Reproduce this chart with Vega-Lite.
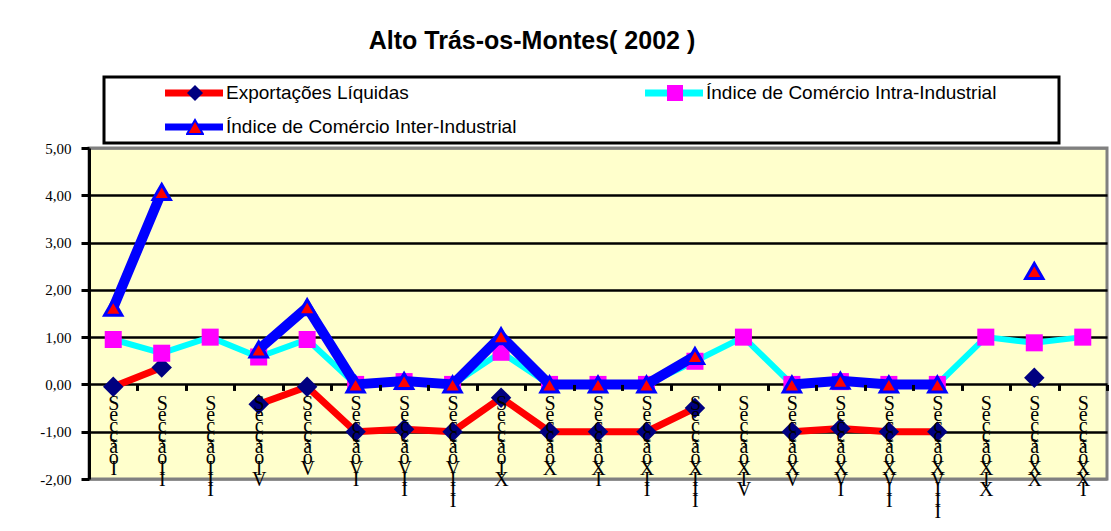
{
  "$schema": "https://vega.github.io/schema/vega-lite/v6.json",
  "width": 1018,
  "height": 331,
  "autosize": {"type": "none"},
  "padding": {"left": 89, "top": 148, "right": 4, "bottom": 52},
  "background": "#FFFFFF",
  "title": {"text": "Alto Trás-os-Montes( 2002 )", "font": "Liberation Sans", "fontSize": 25, "fontWeight": "bold", "color": "#000000", "anchor": "middle", "frame": "group", "dx": -66, "offset": 22},
  "config": {
    "font": "Liberation Sans",
    "view": {"fill": "#FFFFCC", "stroke": "#808080", "strokeWidth": 3}
  },
  "data": {"values": [
    {"secao": "Secção I", "serie": "Exportações Líquidas", "valor": -0.05},
    {"secao": "Secção II", "serie": "Exportações Líquidas", "valor": 0.36},
    {"secao": "Secção III", "serie": "Exportações Líquidas", "valor": null},
    {"secao": "Secção IV", "serie": "Exportações Líquidas", "valor": -0.42},
    {"secao": "Secção V", "serie": "Exportações Líquidas", "valor": -0.05},
    {"secao": "Secção VI", "serie": "Exportações Líquidas", "valor": -1.0},
    {"secao": "Secção VII", "serie": "Exportações Líquidas", "valor": -0.95},
    {"secao": "Secção VIII", "serie": "Exportações Líquidas", "valor": -1.0},
    {"secao": "Secção IX", "serie": "Exportações Líquidas", "valor": -0.28},
    {"secao": "Secção X", "serie": "Exportações Líquidas", "valor": -1.0},
    {"secao": "Secção XI", "serie": "Exportações Líquidas", "valor": -1.0},
    {"secao": "Secção XII", "serie": "Exportações Líquidas", "valor": -1.0},
    {"secao": "Secção XIII", "serie": "Exportações Líquidas", "valor": -0.5},
    {"secao": "Secção XIV", "serie": "Exportações Líquidas", "valor": null},
    {"secao": "Secção XV", "serie": "Exportações Líquidas", "valor": -1.0},
    {"secao": "Secção XVI", "serie": "Exportações Líquidas", "valor": -0.93},
    {"secao": "Secção XVII", "serie": "Exportações Líquidas", "valor": -1.0},
    {"secao": "Secção XVIII", "serie": "Exportações Líquidas", "valor": -1.0},
    {"secao": "Secção XIX", "serie": "Exportações Líquidas", "valor": null},
    {"secao": "Secção XX", "serie": "Exportações Líquidas", "valor": 0.14},
    {"secao": "Secção XXI", "serie": "Exportações Líquidas", "valor": null},
    {"secao": "Secção I", "serie": "Índice de Comércio Intra-Industrial", "valor": 0.95},
    {"secao": "Secção II", "serie": "Índice de Comércio Intra-Industrial", "valor": 0.66},
    {"secao": "Secção III", "serie": "Índice de Comércio Intra-Industrial", "valor": 1.0},
    {"secao": "Secção IV", "serie": "Índice de Comércio Intra-Industrial", "valor": 0.58},
    {"secao": "Secção V", "serie": "Índice de Comércio Intra-Industrial", "valor": 0.95},
    {"secao": "Secção VI", "serie": "Índice de Comércio Intra-Industrial", "valor": 0.0},
    {"secao": "Secção VII", "serie": "Índice de Comércio Intra-Industrial", "valor": 0.06},
    {"secao": "Secção VIII", "serie": "Índice de Comércio Intra-Industrial", "valor": 0.0},
    {"secao": "Secção IX", "serie": "Índice de Comércio Intra-Industrial", "valor": 0.68},
    {"secao": "Secção X", "serie": "Índice de Comércio Intra-Industrial", "valor": 0.0},
    {"secao": "Secção XI", "serie": "Índice de Comércio Intra-Industrial", "valor": 0.0},
    {"secao": "Secção XII", "serie": "Índice de Comércio Intra-Industrial", "valor": 0.0},
    {"secao": "Secção XIII", "serie": "Índice de Comércio Intra-Industrial", "valor": 0.49},
    {"secao": "Secção XIV", "serie": "Índice de Comércio Intra-Industrial", "valor": 1.0},
    {"secao": "Secção XV", "serie": "Índice de Comércio Intra-Industrial", "valor": 0.0},
    {"secao": "Secção XVI", "serie": "Índice de Comércio Intra-Industrial", "valor": 0.06},
    {"secao": "Secção XVII", "serie": "Índice de Comércio Intra-Industrial", "valor": 0.0},
    {"secao": "Secção XVIII", "serie": "Índice de Comércio Intra-Industrial", "valor": 0.0},
    {"secao": "Secção XIX", "serie": "Índice de Comércio Intra-Industrial", "valor": 1.0},
    {"secao": "Secção XX", "serie": "Índice de Comércio Intra-Industrial", "valor": 0.88},
    {"secao": "Secção XXI", "serie": "Índice de Comércio Intra-Industrial", "valor": 1.0},
    {"secao": "Secção I", "serie": "Índice de Comércio Inter-Industrial", "valor": 1.62},
    {"secao": "Secção II", "serie": "Índice de Comércio Inter-Industrial", "valor": 4.07},
    {"secao": "Secção III", "serie": "Índice de Comércio Inter-Industrial", "valor": null},
    {"secao": "Secção IV", "serie": "Índice de Comércio Inter-Industrial", "valor": 0.74},
    {"secao": "Secção V", "serie": "Índice de Comércio Inter-Industrial", "valor": 1.63},
    {"secao": "Secção VI", "serie": "Índice de Comércio Inter-Industrial", "valor": 0.0},
    {"secao": "Secção VII", "serie": "Índice de Comércio Inter-Industrial", "valor": 0.07},
    {"secao": "Secção VIII", "serie": "Índice de Comércio Inter-Industrial", "valor": 0.0},
    {"secao": "Secção IX", "serie": "Índice de Comércio Inter-Industrial", "valor": 1.02},
    {"secao": "Secção X", "serie": "Índice de Comércio Inter-Industrial", "valor": 0.0},
    {"secao": "Secção XI", "serie": "Índice de Comércio Inter-Industrial", "valor": 0.0},
    {"secao": "Secção XII", "serie": "Índice de Comércio Inter-Industrial", "valor": 0.0},
    {"secao": "Secção XIII", "serie": "Índice de Comércio Inter-Industrial", "valor": 0.6},
    {"secao": "Secção XIV", "serie": "Índice de Comércio Inter-Industrial", "valor": null},
    {"secao": "Secção XV", "serie": "Índice de Comércio Inter-Industrial", "valor": 0.0},
    {"secao": "Secção XVI", "serie": "Índice de Comércio Inter-Industrial", "valor": 0.08},
    {"secao": "Secção XVII", "serie": "Índice de Comércio Inter-Industrial", "valor": 0.0},
    {"secao": "Secção XVIII", "serie": "Índice de Comércio Inter-Industrial", "valor": 0.0},
    {"secao": "Secção XIX", "serie": "Índice de Comércio Inter-Industrial", "valor": null},
    {"secao": "Secção XX", "serie": "Índice de Comércio Inter-Industrial", "valor": 2.4},
    {"secao": "Secção XXI", "serie": "Índice de Comércio Inter-Industrial", "valor": null}
  ]},
  "encoding": {
    "x": {
      "field": "secao", "type": "nominal",
      "scale": {"type": "band", "paddingInner": 0, "paddingOuter": 0,
        "domain": ["Secção I", "Secção II", "Secção III", "Secção IV", "Secção V", "Secção VI", "Secção VII", "Secção VIII", "Secção IX", "Secção X", "Secção XI", "Secção XII", "Secção XIII", "Secção XIV", "Secção XV", "Secção XVI", "Secção XVII", "Secção XVIII", "Secção XIX", "Secção XX", "Secção XXI"]},
      "axis": {
        "title": null, "orient": "bottom", "offset": -94.57,
        "domain": false, "grid": false,
        "ticks": true, "tickBand": "extent", "tickColor": "#000000", "tickWidth": 3, "tickSize": 6,
        "labelExpr": "split(replace(datum.label, ' ', ''), '')",
        "labelFont": "Liberation Serif", "labelFontSize": 20, "labelLineHeight": 10.8,
        "labelColor": "#000000", "labelAngle": 0, "labelAlign": "center", "labelBaseline": "top",
        "labelPadding": 3, "labelOverlap": false, "labelBound": false, "labelFlush": false,
        "zindex": 1
      }
    },
    "y": {
      "field": "valor", "type": "quantitative",
      "scale": {"domain": [-2, 5], "nice": false, "zero": false},
      "axis": {
        "title": null, "values": [-2, -1, 0, 1, 2, 3, 4, 5],
        "labelExpr": "replace(replace(format(datum.value, '.2f'), '.', ','), '\u2212', '-')",
        "labelFont": "Liberation Serif", "labelFontSize": 15, "labelColor": "#000000", "labelPadding": 10,
        "domainColor": "#000000", "domainWidth": 3,
        "tickColor": "#000000", "tickWidth": 3, "tickSize": 8,
        "grid": true,
        "gridColor": {"condition": {"test": "datum.value === 5 || datum.value === -2", "value": "#808080"}, "value": "#000000"},
        "gridWidth": 2.5, "gridOpacity": 1
      }
    }
  },
  "layer": [
    {
      "transform": [{"filter": {"field": "serie", "equal": "Exportações Líquidas"}}],
      "mark": {"type": "line", "strokeWidth": 7, "invalid": "break-paths-filter-domains"},
      "encoding": {
        "stroke": {
          "field": "serie", "type": "nominal",
          "scale": {"domain": ["Exportações Líquidas", "Índice de Comércio Intra-Industrial", "Índice de Comércio Inter-Industrial"], "range": ["#FF0000", "#00FFFF", "#0000FF"]},
          "legend": {
            "orient": "none", "legendX": 15, "legendY": -71, "direction": "horizontal",
            "columns": 2, "columnPadding": 73, "rowPadding": 14, "padding": 6, "clipHeight": 20,
            "symbolType": "M-0.028,0L1.066,0", "symbolSize": 11236, "symbolStrokeWidth": 7,
            "labelFont": "Liberation Sans", "labelFontSize": 19, "labelColor": "#000000", "labelOffset": 3, "labelLimit": 600,
            "strokeColor": "#000000",
            "title": "\u00a0", "titleOrient": "right", "titlePadding": 57, "titleFontSize": 10,
            "values": ["Exportações Líquidas", "Índice de Comércio Intra-Industrial", "Índice de Comércio Inter-Industrial"],
            "zindex": 0,
            "encode": {"legend": {"update": {"strokeWidth": {"value": 3}}}}
          }
        }
      }
    },
    {
      "transform": [{"filter": {"and": [{"field": "serie", "equal": "Exportações Líquidas"}, {"field": "valor", "valid": true}]}}],
      "mark": {"type": "point", "filled": true, "size": 420, "opacity": 1, "strokeWidth": 0},
      "encoding": {
        "fill": {
          "field": "serie", "type": "nominal",
          "scale": {"domain": ["Exportações Líquidas", "Índice de Comércio Inter-Industrial", "Índice de Comércio Intra-Industrial"], "range": ["#000080", "#FF0000", "#FF00FF"]},
          "legend": {
            "orient": "none", "legendX": 91, "legendY": -71, "direction": "horizontal",
            "columns": 2, "columnPadding": 462, "rowPadding": 14, "padding": 6, "clipHeight": 20,
            "symbolSize": 256, "symbolOpacity": 1, "labelExpr": "''", "labelOffset": 0,
            "title": null, "zindex": 1,
            "values": ["Exportações Líquidas", "Índice de Comércio Intra-Industrial", "Índice de Comércio Inter-Industrial"],
            "encode": {"symbols": {"update": {"stroke": {"signal": "datum.value === 'Índice de Comércio Inter-Industrial' ? '#0000FF' : 'transparent'"}, "strokeWidth": {"value": 2}}}}
          }
        },
        "shape": {
          "field": "serie", "type": "nominal",
          "scale": {"domain": ["Exportações Líquidas", "Índice de Comércio Inter-Industrial", "Índice de Comércio Intra-Industrial"], "range": ["diamond", "triangle-up", "square"]},
          "legend": {
            "orient": "none", "legendX": 91, "legendY": -71, "direction": "horizontal",
            "columns": 2, "columnPadding": 462, "rowPadding": 14, "padding": 6, "clipHeight": 20,
            "symbolSize": 256, "symbolOpacity": 1, "labelExpr": "''", "labelOffset": 0,
            "title": null, "zindex": 1,
            "values": ["Exportações Líquidas", "Índice de Comércio Intra-Industrial", "Índice de Comércio Inter-Industrial"],
            "encode": {"symbols": {"update": {"stroke": {"signal": "datum.value === 'Índice de Comércio Inter-Industrial' ? '#0000FF' : 'transparent'"}, "strokeWidth": {"value": 2}}}}
          }
        }
      }
    },
    {
      "transform": [{"filter": {"field": "serie", "equal": "Índice de Comércio Intra-Industrial"}}],
      "mark": {"type": "line", "strokeWidth": 6, "invalid": "break-paths-filter-domains"},
      "encoding": {"stroke": {"field": "serie", "type": "nominal",
        "scale": {"domain": ["Exportações Líquidas", "Índice de Comércio Intra-Industrial", "Índice de Comércio Inter-Industrial"], "range": ["#FF0000", "#00FFFF", "#0000FF"]}}}
    },
    {
      "transform": [{"filter": {"and": [{"field": "serie", "equal": "Índice de Comércio Intra-Industrial"}, {"field": "valor", "valid": true}]}}],
      "mark": {"type": "point", "filled": true, "size": 290, "opacity": 1, "strokeWidth": 0},
      "encoding": {
        "fill": {"field": "serie", "type": "nominal",
          "scale": {"domain": ["Exportações Líquidas", "Índice de Comércio Inter-Industrial", "Índice de Comércio Intra-Industrial"], "range": ["#000080", "#FF0000", "#FF00FF"]}},
        "shape": {"field": "serie", "type": "nominal",
          "scale": {"domain": ["Exportações Líquidas", "Índice de Comércio Inter-Industrial", "Índice de Comércio Intra-Industrial"], "range": ["diamond", "triangle-up", "square"]}}
      }
    },
    {
      "transform": [{"filter": {"field": "serie", "equal": "Índice de Comércio Inter-Industrial"}}],
      "mark": {"type": "line", "strokeWidth": 10, "invalid": "break-paths-filter-domains"},
      "encoding": {"stroke": {"field": "serie", "type": "nominal",
        "scale": {"domain": ["Exportações Líquidas", "Índice de Comércio Intra-Industrial", "Índice de Comércio Inter-Industrial"], "range": ["#FF0000", "#00FFFF", "#0000FF"]}}}
    },
    {
      "transform": [{"filter": {"and": [{"field": "serie", "equal": "Índice de Comércio Inter-Industrial"}, {"field": "valor", "valid": true}]}}],
      "mark": {"type": "point", "filled": true, "size": 300, "opacity": 1, "stroke": "#0000FF", "strokeWidth": 3},
      "encoding": {
        "fill": {"field": "serie", "type": "nominal",
          "scale": {"domain": ["Exportações Líquidas", "Índice de Comércio Inter-Industrial", "Índice de Comércio Intra-Industrial"], "range": ["#000080", "#FF0000", "#FF00FF"]}},
        "shape": {"field": "serie", "type": "nominal",
          "scale": {"domain": ["Exportações Líquidas", "Índice de Comércio Inter-Industrial", "Índice de Comércio Intra-Industrial"], "range": ["diamond", "triangle-up", "square"]}}
      }
    }
  ]
}
